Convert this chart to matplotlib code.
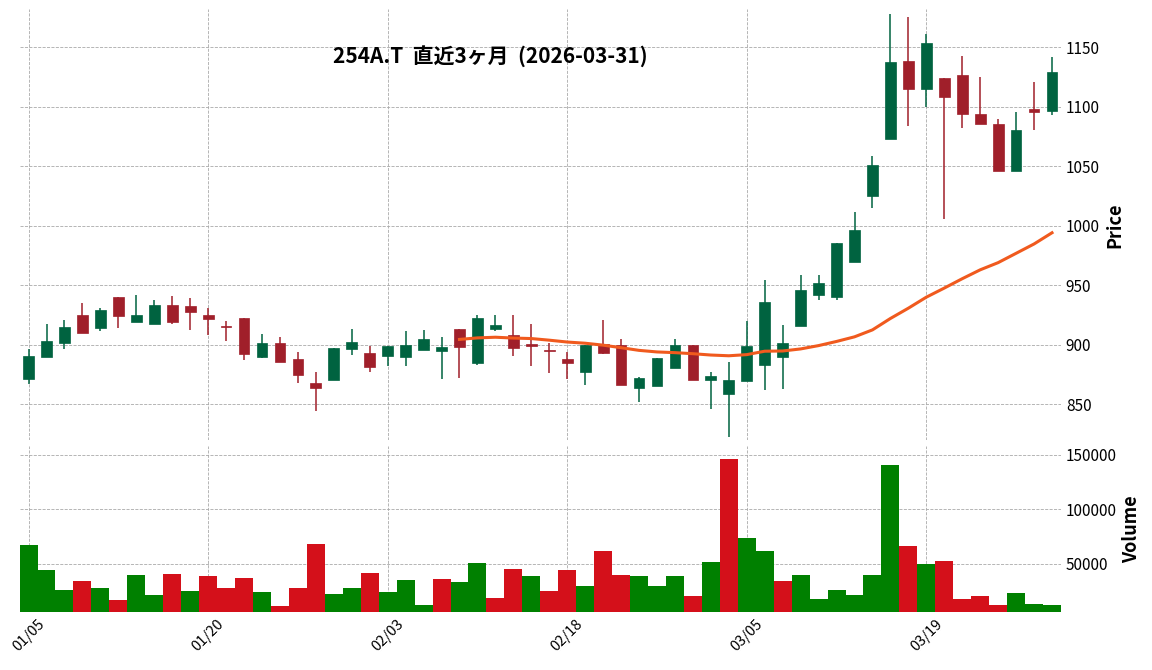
import matplotlib
matplotlib.use("Agg")
import matplotlib.pyplot as plt
import numpy as np
import pandas as pd

plt.rcParams['font.family'] = ['Noto Sans CJK JP', 'DejaVu Sans']

dates = ["01/05","01/06","01/07","01/08","01/09","01/13","01/14","01/15","01/16","01/19",
         "01/20","01/21","01/22","01/23","01/26","01/27","01/28","01/29","01/30","02/02",
         "02/03","02/04","02/05","02/06","02/09","02/10","02/12","02/13","02/16","02/17",
         "02/18","02/19","02/20","02/24","02/25","02/26","02/27","03/02","03/03","03/04",
         "03/05","03/06","03/09","03/10","03/11","03/12","03/13","03/16","03/17","03/18",
         "03/19","03/23","03/24","03/25","03/26","03/27","03/30","03/31"]
opens = [871.5,890,902,925,914,940,919,918,934,933,925,915.5,923,890,901.7,888,868,870.6,897,893,
         891,890,896,894.6,913.6,885,913.6,908.5,900,895.2,888,877.4,900.8,900,863.8,865.5,880.8,900,870.6,858.8,
         870,883.6,890,916,942,940,970,1025,1073.5,1139,1114.7,1124,1126.5,1094.5,1086,1046,1098,1097]
highs = [897,917.5,921,935,931,940,942,938,941,939.5,930.8,919.8,923,909,906.5,893.8,877.7,897.5,913.3,899.4,
         899,912,913,907,913.6,925,925,925,917.5,901.4,893.8,900,921,904.8,873.4,889,904.8,900,877,886,
         920,955,917,959,959,986,1012,1059,1178,1176,1161,1124,1143,1125.6,1090,1096,1120.6,1141.6]
lows = [867.5,890,897,910,911.6,914,919,918,918,912.4,908.5,903,887,888.7,886,868.4,844.6,870.6,892,877.7,
        882.5,882,896,871,872.6,883.6,911.6,891,882,876.8,871.8,866.7,892.6,866,852.3,865.5,880.8,870.6,845.8,823,
        870,862,862.6,916,938,938,970,1015,1073,1083.6,1100,1005.5,1082,1086,1046,1046,1081,1093]
closes = [890.7,903,915,910,929,924,925,934,919.5,928,922,915,892.6,901.7,886,875,864,897.5,902.5,881.6,
          899,900,905,898.3,898.6,922.6,917,897.7,899.5,894.8,885,900,893.5,866,872,889,900,870.6,873.7,870.6,
          899,935.7,902,946,951.7,986,997,1051,1138,1114.7,1154,1108,1094.5,1086,1046,1081,1096,1129]
volumes = [67000,44000,26000,34000,28000,17000,40000,21000,41000,25000,39000,28000,37000,24000,11000,28000,68000,22000,28000,42000,
           24000,35000,12000,36000,33000,51000,19000,45000,39000,25000,44000,30000,62000,40000,39000,30000,39000,20000,52000,146000,
           74000,62000,34000,40000,18000,26000,21000,40000,141000,66000,50000,53000,18000,20000,12000,23000,13000,12000]

x = np.arange(len(dates))
o, h, l, c, v = map(np.array, (opens, highs, lows, closes, volumes))
ma = pd.Series(c).rolling(25).mean()

fig = plt.figure(figsize=(11.52, 6.70), dpi=100)
ax = fig.add_axes([0.017, 0.343, 0.904, 0.643])
axv = fig.add_axes([0.017, 0.087, 0.904, 0.247], sharex=ax)

up_c, dn_c = '#006340', '#a01f2a'
for a in (ax, axv):
    for s in a.spines.values():
        s.set_visible(False)
    a.grid(True, linestyle='--', color='#aaaaaa', linewidth=0.6)
    a.set_axisbelow(True)
    a.yaxis.tick_right()
    a.yaxis.set_label_position('right')
    a.tick_params(length=0, labelsize=11)

up = c >= o
cols = np.where(up, up_c, dn_c)
ax.vlines(x, l, h, colors=cols, linewidth=1.1, zorder=2)
ax.bar(x, np.maximum(np.abs(c - o), 1.2), bottom=np.minimum(o, c), width=0.6,
       color=cols, edgecolor=cols, linewidth=0.5, zorder=3)
ax.plot(x, ma, color='#f05a1e', linewidth=2.2, zorder=4)
ax.set_ylim(820, 1182)
ax.set_yticks([850, 900, 950, 1000, 1050, 1100, 1150])
ax.set_ylabel('Price', fontsize=13, fontweight='bold')
ax.text(0.452, 0.892, '254A.T  直近3ヶ月  (2026-03-31)', transform=ax.transAxes,
        ha='center', va='center', fontsize=15, fontweight='bold')
plt.setp(ax.get_xticklabels(), visible=False)

vup = np.concatenate([[True], c[1:] >= c[:-1]])
axv.bar(x, v, width=1.0, color=np.where(vup, '#008000', '#d4101a'))
axv.set_ylim(6000, 158000)
axv.set_yticks([50000, 100000, 150000])
axv.set_yticklabels(['50000', '100000', '150000'])
axv.set_ylabel('Volume', fontsize=13, fontweight='bold')
axv.set_xlim(-0.5, len(x) - 0.5)
ticks = list(range(0, len(x), 10))
axv.set_xticks(ticks)
axv.set_xticklabels([dates[i] for i in ticks], rotation=45, fontsize=10.5)

fig.savefig('out.png', dpi=100)
